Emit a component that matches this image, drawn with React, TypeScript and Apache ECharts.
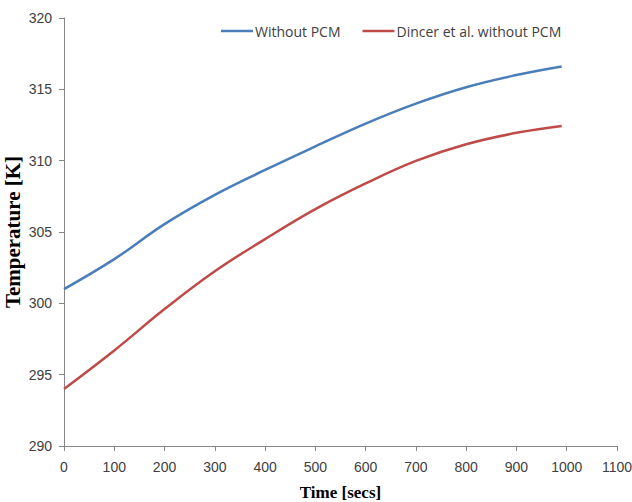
import React, { useEffect, useRef } from "react";
import * as echarts from "echarts";

const times = [0, 100, 200, 300, 400, 500, 600, 700, 800, 900, 990];
const withoutPCM = [301.0, 303.1, 305.55, 307.6, 309.35, 311.0, 312.6, 314.0, 315.15, 316.0, 316.6];
const dincer = [294.0, 296.7, 299.6, 302.25, 304.5, 306.6, 308.4, 309.98, 311.15, 311.95, 312.43];
const seriesNames = ["Without PCM", "Dincer et al. without PCM"];
const seriesColors = ["#4a7ebb", "#be4b48"];

export default function App() {
  const ref = useRef<HTMLDivElement>(null);
  useEffect(() => {
    if (!ref.current) return;
    const chart = echarts.init(ref.current, null, { renderer: "svg" });
    const axisLine = { show: true, lineStyle: { color: "#868686", width: 1 } };
    const labelFont = { fontFamily: "Liberation Sans", fontSize: 14, color: "#404040" };
    const titleFont = { fontFamily: "Liberation Serif", fontWeight: "bold", fontSize: 17, color: "#000" };
    chart.setOption({
      animation: false,
      backgroundColor: "#ffffff",
      grid: { left: 64, right: 15, top: 18, bottom: 56, containLabel: false, outerBoundsMode: "none" },
      legend: {
        data: seriesNames,
        left: 221,
        top: 24,
        padding: 0,
        icon: "rect",
        itemWidth: 32,
        itemHeight: 2.5,
        itemGap: 22,
        textStyle: { fontFamily: "Open Sans", fontSize: 14, color: "#404040", padding: [0, 0, 0, -3] },
      },
      xAxis: {
        type: "value",
        min: 0,
        max: 1100,
        interval: 100,
        name: "Time [secs]",
        nameLocation: "middle",
        nameGap: 38,
        nameTextStyle: titleFont,
        axisLine,
        axisTick: { show: true, length: 5, lineStyle: { color: "#868686" } },
        axisLabel: { ...labelFont, margin: 14, formatter: (v: number) => String(v) },
        splitLine: { show: false },
      },
      yAxis: {
        type: "value",
        min: 290,
        max: 320,
        interval: 5,
        name: "Temperature [K]",
        nameLocation: "middle",
        nameGap: 41,
        nameMoveOverlap: false,
        nameRotate: 90,
        nameTextStyle: { ...titleFont, fontSize: 21 },
        axisLine,
        axisTick: { show: true, length: 5, lineStyle: { color: "#868686" } },
        axisLabel: { ...labelFont, margin: 12, formatter: (v: number) => String(v) },
        splitLine: { show: false },
      },
      series: [
        {
          name: seriesNames[0],
          type: "line",
          smooth: 0.4,
          symbol: "none",
          data: times.map((t, i) => [t, withoutPCM[i]]),
          lineStyle: { color: seriesColors[0], width: 2.5 },
          itemStyle: { color: seriesColors[0] },
        },
        {
          name: seriesNames[1],
          type: "line",
          smooth: 0.4,
          symbol: "none",
          data: times.map((t, i) => [t, dincer[i]]),
          lineStyle: { color: seriesColors[1], width: 2.5 },
          itemStyle: { color: seriesColors[1] },
        },
      ],
    });
    return () => chart.dispose();
  }, []);
  return (
    <div
      ref={ref}
      style={{ position: "fixed", left: 0, top: 0, width: 632, height: 502, background: "#fff" }}
    />
  );
}
